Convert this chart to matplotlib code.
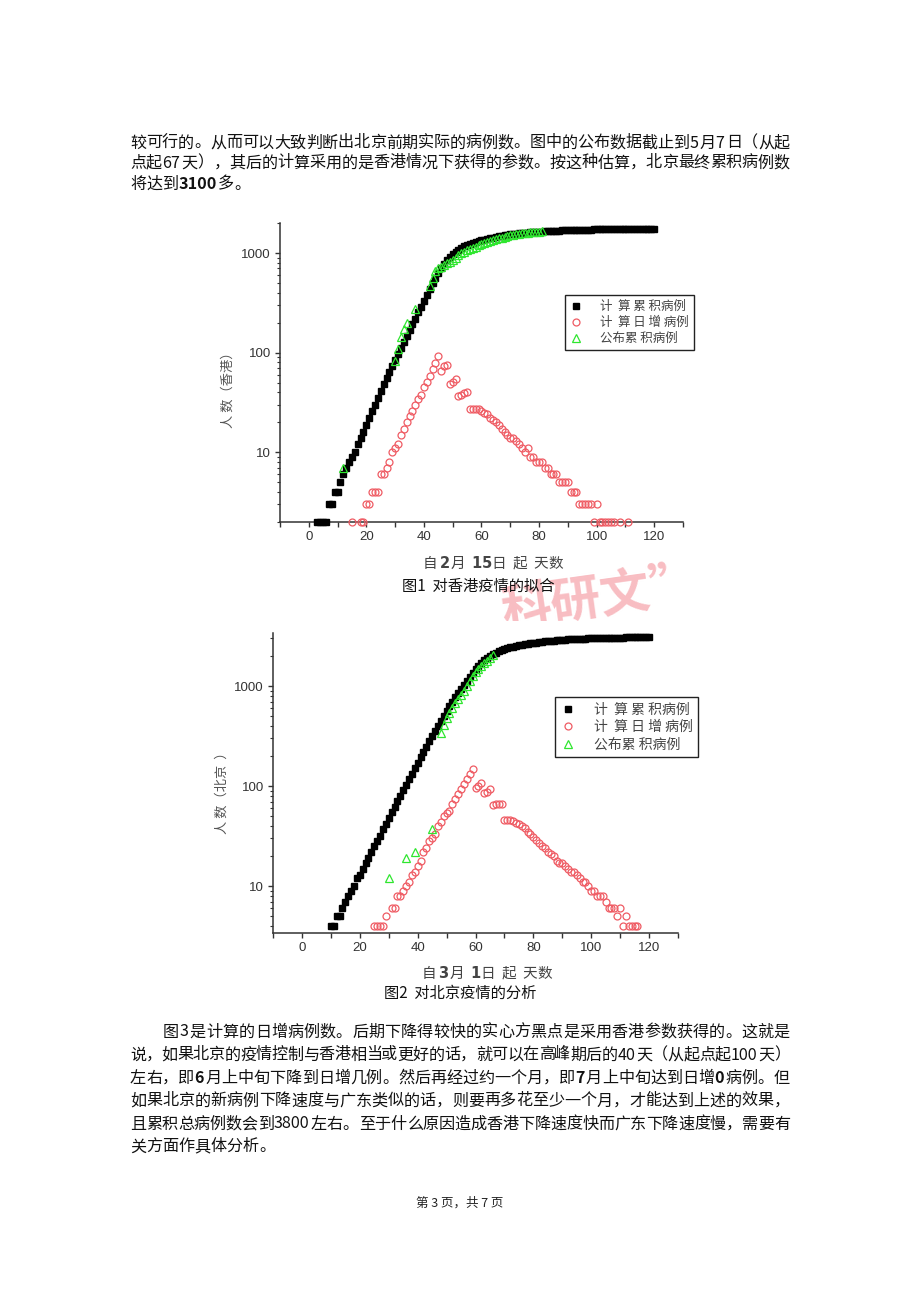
import re

import matplotlib
matplotlib.use("Agg")
import matplotlib.pyplot as plt
from matplotlib.patches import Rectangle
from matplotlib.ticker import MultipleLocator, LogLocator, NullFormatter, FuncFormatter

plt.rcParams['font.family'] = ['Noto Sans CJK SC', 'DejaVu Sans']

W, H = 920, 1302

# ---------------------------------------------------------------------------
# Dados - Fig.1 Hong Kong (dias a partir de 15/2)
# ---------------------------------------------------------------------------
hk_calc_start = 3
hk_calc_cum = [
    2, 2, 2, 2, 3, 3, 4, 4, 5, 6,
    7, 8, 9, 10, 12, 14, 16, 19, 22, 26,
    30, 35, 41, 48, 56, 64, 74, 85, 97, 111,
    127, 146, 168, 192, 220, 253, 290, 332, 380, 435,
    495, 560, 630, 700, 780, 850, 915, 975, 1030, 1080,
    1125, 1165, 1200, 1235, 1265, 1295, 1320, 1345, 1365, 1385,
    1405, 1425, 1450, 1470, 1488, 1505, 1520, 1535, 1548, 1560,
    1572, 1583, 1593, 1603, 1612, 1620, 1628, 1636, 1643, 1650,
    1656, 1662, 1668, 1673, 1678, 1683, 1688, 1692, 1696, 1700,
    1704, 1708, 1711, 1714, 1717, 1720, 1723, 1725, 1728, 1730,
    1732, 1734, 1736, 1738, 1740, 1741, 1743, 1744, 1746, 1747,
    1748, 1749, 1750, 1751, 1752, 1753, 1754, 1755,
]
hk_calc_days = list(range(hk_calc_start, hk_calc_start + len(hk_calc_cum)))

hk_daily_days = [
    15, 18, 19, 20, 21, 22, 23, 24, 25, 26,
    27, 28, 29, 30, 31, 32, 33, 34, 35, 36,
    37, 38, 39, 40, 41, 42, 43, 44, 45, 46,
    47, 48, 49, 50, 51, 52, 53, 54, 55, 56,
    57, 58, 59, 60, 61, 62, 63, 64, 65, 66,
    67, 68, 69, 70, 71, 72, 73, 74, 75, 76,
    77, 78, 79, 80, 81, 82, 83, 84, 85, 86,
    87, 88, 89, 90, 91, 92, 93, 94, 95, 96,
    97, 98, 99, 100, 101, 102, 103, 104, 105, 106,
    108, 111,
]
hk_daily = [
    2, 2, 2, 3, 3, 4, 4, 4, 6, 6,
    7, 8, 10, 11, 12, 15, 17, 20, 23, 26,
    30, 34, 38, 45, 51, 59, 68, 79, 92, 66,
    73, 76, 49, 51, 54, 37, 38, 39, 40, 27,
    27, 27, 27, 26, 25, 24, 22, 21, 20, 19,
    17, 16, 15, 14, 14, 13, 12, 11, 10, 11,
    9, 9, 8, 8, 8, 7, 7, 6, 6, 6,
    5, 5, 5, 5, 4, 4, 4, 3, 3, 3,
    3, 3, 2, 3, 2, 2, 2, 2, 2, 2,
    2, 2,
]

hk_pub_days = [12, 30, 31, 32, 33, 34, 37, 42, 43, 44,
               45, 46, 47, 48, 49, 50, 51, 52, 53, 54,
               55, 56, 57, 58, 59, 60, 61, 62, 63, 64,
               65, 66, 67, 68, 69, 70, 71, 72, 73, 74,
               75, 76, 77, 78, 79, 80, 81]
hk_pub_cum = [7, 82, 110, 142, 173, 200, 275, 470, 560, 660,
              700, 730, 760, 790, 820, 860, 900, 950, 990, 1030,
              1060, 1100, 1130, 1160, 1190, 1220, 1260, 1290, 1330, 1360,
              1380, 1400, 1430, 1460, 1480, 1500, 1520, 1540, 1560, 1575,
              1590, 1600, 1610, 1620, 1630, 1640, 1650]

# ---------------------------------------------------------------------------
# Dados - Fig.2 Beijing (dias a partir de 1/3)
# ---------------------------------------------------------------------------
bj_calc_start = 10
bj_calc_cum = [
    4, 4, 5, 5, 6, 7, 8, 9, 10, 12,
    13, 15, 17, 19, 22, 25, 28, 32, 37, 42,
    48, 55, 62, 71, 80, 91, 103, 117, 133, 151,
    171, 194, 219, 248, 280, 316, 356, 400, 450, 505,
    565, 630, 700, 775, 855, 940, 1030, 1130, 1240, 1360,
    1480, 1600, 1720, 1830, 1930, 2020, 2100, 2170, 2230, 2290,
    2340, 2390, 2435, 2480, 2520, 2555, 2590, 2620, 2650, 2680,
    2705, 2730, 2755, 2778, 2800, 2820, 2838, 2855, 2872, 2888,
    2902, 2915, 2928, 2940, 2951, 2962, 2972, 2981, 2990, 2998,
    3006, 3013, 3020, 3026, 3032, 3038, 3043, 3048, 3053, 3057,
    3061, 3065, 3069, 3072, 3075, 3078, 3081, 3084, 3086, 3088,
    3090,
]
bj_calc_days = list(range(bj_calc_start, bj_calc_start + len(bj_calc_cum)))

bj_daily_days = [
    25, 26, 27, 28, 29, 31, 32, 33, 34, 35,
    36, 37, 38, 39, 40, 41, 42, 43, 44, 45,
    46, 47, 48, 49, 50, 51, 52, 53, 54, 55,
    56, 57, 58, 59, 60, 61, 62, 63, 64, 65,
    66, 67, 68, 69, 70, 71, 72, 73, 74, 75,
    76, 77, 78, 79, 80, 81, 82, 83, 84, 85,
    86, 87, 88, 89, 90, 91, 92, 93, 94, 95,
    96, 97, 98, 99, 100, 101, 102, 103, 104, 105,
    106, 107, 108, 109, 110, 111, 112, 113, 114, 115,
    116,
]
bj_daily = [
    4, 4, 4, 4, 5, 6, 6, 8, 8, 9,
    10, 11, 13, 14, 16, 18, 22, 24, 28, 30,
    33, 40, 44, 50, 54, 57, 66, 74, 83, 93,
    104, 117, 131, 150, 96, 100, 108, 86, 87, 93,
    65, 66, 66, 67, 46, 46, 46, 45, 43, 42,
    40, 38, 35, 33, 31, 29, 27, 25, 24, 22,
    21, 20, 18, 17, 17, 16, 15, 14, 14, 13,
    12, 11, 11, 10, 9, 9, 8, 8, 8, 7,
    6, 6, 6, 5, 6, 4, 5, 4, 4, 4,
    4,
]

bj_pub_days = [30, 36, 39, 45, 48, 49, 50, 51, 52, 53,
               54, 55, 56, 57, 58, 59, 60, 61, 62, 63,
               64, 65, 66]
bj_pub_cum = [12, 19, 22, 37, 340, 410, 482, 545, 608, 680,
              738, 820, 895, 1000, 1125, 1250, 1370, 1480, 1585, 1700,
              1780, 1920, 2070]

legenda = ["计  算 累 积病例", "计  算 日 增 病例", "公布累 积病例"]

par1 = [
    "较可行的。从而可以大致判断出北京前期实际的病例数。图中的公布数据截止到5月7日（从起",
    "点起67天），其后的计算采用的是香港情况下获得的参数。按这种估算，北京最终累积病例数",
    "将达到3100多。",
]
par2 = [
    "图3是计算的日增病例数。后期下降得较快的实心方黑点是采用香港参数获得的。这就是",
    "说，如果北京的疫情控制与香港相当或更好的话，就可以在高峰期后的40天（从起点起100天）",
    "左右，即6月上中旬下降到日增几例。然后再经过约一个月，即7月上中旬达到日增0病例。但",
    "如果北京的新病例下降速度与广东类似的话，则要再多花至少一个月，才能达到上述的效果，",
    "且累积总病例数会到3800左右。至于什么原因造成香港下降速度快而广东下降速度慢，需要有",
    "关方面作具体分析。",
]


def fx(px):
    return px / W


def fy(py):
    return 1 - py / H


fig = plt.figure(figsize=(W / 100, H / 100), dpi=100)
fig.patch.set_facecolor("white")
renderer = fig.canvas.get_renderer()


# ---------------------------------------------------------------------------
# Texto justificado (caractere a caractere)
# ---------------------------------------------------------------------------
def escrever_linha(y, texto, x0, x1=None, negrito=False, size=11.6):
    tokens = re.findall(r"[0-9A-Za-z]+|.", texto)
    em = size * 100 / 72
    arts, larg = [], []
    for tok in tokens:
        bold = negrito and tok.isascii()
        t = fig.text(0, fy(y), tok, fontsize=size, va="center", ha="left",
                     fontweight="bold" if bold else "normal", color="#111")
        arts.append(t)
        if tok.isascii():
            larg.append(t.get_window_extent(renderer).width + 1.5)
        else:
            larg.append(em)
    gap = 0
    if x1 is not None and len(arts) > 1:
        gap = (x1 - x0 - sum(larg)) / (len(arts) - 1)
    x = x0
    for t, w in zip(arts, larg):
        t.set_x(fx(x))
        x += w + gap


for i, (yy, ln) in enumerate(zip([143, 163, 184], par1)):
    ultima = i == len(par1) - 1
    escrever_linha(yy, ln, 130, None if ultima else 790, negrito=ultima)

ys2 = [1032, 1055, 1078, 1101, 1124, 1147]
for i, (yy, ln) in enumerate(zip(ys2, par2)):
    x0 = 163 if i == 0 else 130
    ultima = i == len(par2) - 1
    escrever_linha(yy, ln, x0, None if ultima else 790, negrito=(i == 2))

fig.text(fx(460), fy(1203), "第 3 页，共 7 页", fontsize=9, ha="center",
         va="center", color="#222")


# ---------------------------------------------------------------------------
# Graficos
# ---------------------------------------------------------------------------
def estilo(ax, ylim):
    ax.set_yscale("log")
    ax.set_xlim(-10, 130)
    ax.set_ylim(*ylim)
    ax.set_facecolor("none")
    for s in ["top", "right"]:
        ax.spines[s].set_visible(False)
    for s in ["left", "bottom"]:
        ax.spines[s].set_linewidth(1.1)
        ax.spines[s].set_color("#333")
    ax.xaxis.set_major_locator(MultipleLocator(20))
    ax.xaxis.set_minor_locator(MultipleLocator(10))
    ax.yaxis.set_major_locator(LogLocator(10))
    ax.yaxis.set_minor_locator(LogLocator(10, subs=range(2, 10)))
    ax.yaxis.set_minor_formatter(NullFormatter())
    ax.yaxis.set_major_formatter(FuncFormatter(lambda v, p: f"{int(round(v))}"))
    ax.tick_params(which="both", direction="out", colors="#333",
                   labelsize=9.5, labelfontfamily="Liberation Sans", pad=3)
    ax.tick_params(axis="x", which="both", length=3.5, width=1)
    ax.tick_params(axis="y", which="major", length=3.5, width=1)
    ax.tick_params(axis="y", which="minor", length=2.2, width=0.8)


def desenhar(ax, cd, cv, dd, dv, pd, pv):
    h1, = ax.plot(cd, cv, ls="none", marker="s", ms=4.6, color="black",
                  mec="black", clip_on=False, zorder=3)
    h2, = ax.plot(dd, dv, ls="none", marker="o", ms=5.0, mfc="none",
                  mec="#ef5b63", mew=0.9, clip_on=False, zorder=4)
    h3, = ax.plot(pd, pv, ls="none", marker="^", ms=5.3, mfc="none",
                  mec="#2fe62f", mew=0.9, clip_on=False, zorder=5)
    return [h1, h2, h3]


def legenda_caixa(ax, hs, x, y, fs):
    leg = ax.legend(hs, legenda, loc="upper left", bbox_to_anchor=(fx(x), fy(y)),
                    bbox_transform=fig.transFigure, fontsize=fs, frameon=True,
                    fancybox=False, framealpha=1, edgecolor="#222", borderpad=0.4,
                    labelspacing=0.25, handletextpad=1.4, handlelength=1.0,
                    borderaxespad=0)
    leg.get_frame().set_linewidth(1.0)
    for t in leg.get_texts():
        t.set_color("#444")


# Fig.1
ax1 = fig.add_axes([fx(280), fy(522), fx(683) - fx(280), fy(223) - fy(522)])
estilo(ax1, (2, 2000))
hs = desenhar(ax1, hk_calc_days, hk_calc_cum, hk_daily_days, hk_daily,
              hk_pub_days, hk_pub_cum)
legenda_caixa(ax1, hs, 565, 295, 9)

fig.text(fx(228), fy(387), "人 数（香港）", rotation=90, fontsize=9.5,
         ha="center", va="center", color="#555")
fig.text(fx(493), fy(562), r"自 $\mathbf{2}$月  $\mathbf{15}$日  起  天数",
         fontsize=10.5, ha="center", va="center", color="#444")
fig.text(fx(478), fy(586), "图1  对香港疫情的拟合", fontsize=11,
         ha="center", va="center", color="#111")

# marca d'agua
wm = fig.text(fx(600), fy(598), "科研文”", fontsize=36, fontweight="bold",
              ha="center", va="center", color="#f27c86", alpha=0.5, rotation=8,
              zorder=0)
wm.set_clip_path(Rectangle((0, fy(621)), 1, fy(550) - fy(621),
                           transform=fig.transFigure))

# Fig.2
ax2 = fig.add_axes([fx(273), fy(933), fx(678) - fx(273), fy(633) - fy(933)])
estilo(ax2, (3.4, 3400))
hs = desenhar(ax2, bj_calc_days, bj_calc_cum, bj_daily_days, bj_daily,
              bj_pub_days, bj_pub_cum)
legenda_caixa(ax2, hs, 555, 697, 10)

fig.text(fx(222), fy(790), "人 数（北京  ）", rotation=90, fontsize=9.5,
         ha="center", va="center", color="#555")
fig.text(fx(487), fy(972), r"自 $\mathbf{3}$月  $\mathbf{1}$日  起  天数",
         fontsize=10.5, ha="center", va="center", color="#444")
fig.text(fx(460), fy(993), "图2  对北京疫情的分析", fontsize=11,
         ha="center", va="center", color="#111")

fig.savefig("out.png", dpi=100, facecolor="white")
